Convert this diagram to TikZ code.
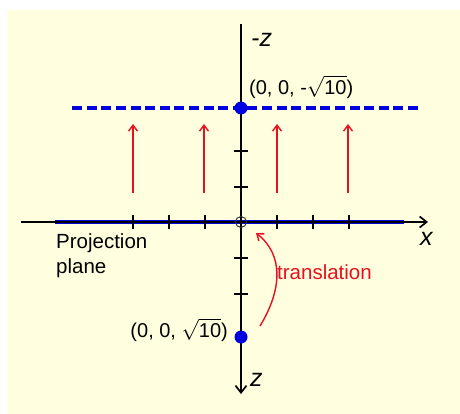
\documentclass[tikz,border=0pt]{standalone}
\usepackage{fontspec}
\setmainfont{Liberation Sans}
\usetikzlibrary{arrows.meta}
\definecolor{bg}{HTML}{FFFFE0}
\definecolor{myblue}{HTML}{0000E0}
\definecolor{myred}{HTML}{E81020}
\tikzset{
  axis/.style={line width=1.7pt, draw=black},
  tick/.style={line width=1.9pt, draw=black},
  uparrow/.style={line width=1.4pt, draw=myred, -{Straight Barb[length=6pt,width=9pt,line width=1.4pt]}},
  bluedot/.style={circle, fill=myblue, inner sep=0pt, minimum size=13pt},
  axlabel/.style={font=\fontsize{25}{28}\selectfont\itshape, inner sep=0pt},
  txt/.style={font=\fontsize{20}{24}\selectfont, inner sep=0pt},
}
\begin{document}
\begin{tikzpicture}[x=1pt,y=-1pt]
\useasboundingbox (0,0) rectangle (460,414);
\fill[white] (0,0) rectangle (460,414);
\fill[bg] (7,10) rectangle (460,414);
% coordinates
\coordinate (O) at (241,222);
\coordinate (xl) at (21,222);
\coordinate (xr) at (428,222);
\coordinate (zt) at (241,24);
\coordinate (zb) at (241,394);
% blue plane
\draw[myblue, line width=4.5pt] (55,222) -- (404,222);
% axes
\draw[axis, -{Straight Barb[length=7pt,width=11pt,line width=1.7pt]}] (xl) -- (xr);
\draw[axis, -{Straight Barb[length=7pt,width=11pt,line width=1.7pt]}] (zt) -- (zb);
% dashed line
\draw[myblue, line width=4.5pt, dash pattern=on 10pt off 4.6pt] (418,108) -- (70,108);
% ticks
\foreach \x in {133,169,205,277,313,349} \draw[tick] (\x,215) -- (\x,229);
\foreach \y in {151,187,258,294} \draw[tick] (234,\y) -- (248,\y);
% origin circle
\node[circle, draw=black!80, line width=1pt, minimum size=11pt, inner sep=0pt] (oc) at (O) {};
% dots
\node[bluedot] (top) at (241,108) {};
\node[bluedot] (bot) at (241,337) {};
% red arrows
\foreach \x [count=\i] in {133,204,277,348} {
  \coordinate (a\i) at (\x,193);
  \coordinate (b\i) at (\x,124);
  \draw[uparrow] (a\i) -- (b\i);
}
% translation arrow
\coordinate (ts) at (260,326);
\coordinate (te) at (256,233);
\draw[uparrow] (ts) .. controls (282,290) and (284,255) .. (te);
% labels
\node[axlabel, anchor=west] (mz) at (251,40) {-z};
\node[axlabel, anchor=west] (xlab) at (420,239) {x};
\node[axlabel, anchor=west] (zlab) at (250,380) {z};
\node[txt, anchor=west] (ct) at (249,87) {(0, 0, -\(\sqrt{\mbox{10}}\))};
\node[txt, anchor=east] (cb) at (228,330) {(0, 0, \(\sqrt{\mbox{10}}\))};
\node[txt, anchor=west, align=left, font=\fontsize{20.5}{25}\selectfont] (pp) at (56,256) {Projection\\plane};
\node[txt, anchor=west, text=myred, font=\fontsize{20.5}{24}\selectfont] (tr) at (277,272) {translation};
\end{tikzpicture}
\end{document}
